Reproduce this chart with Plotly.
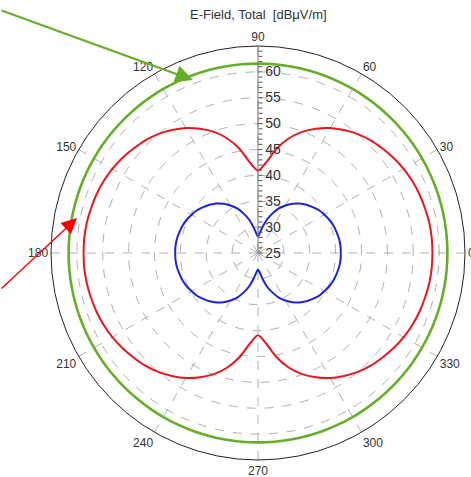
import plotly.graph_objects as go

# ---- data ----
angles = list(range(0, 361, 5))

red_db = [58.7, 58.7, 58.6, 58.4, 58.2, 57.9, 57.5, 57.0, 56.4, 55.8, 55.0, 54.0, 52.9, 51.5, 49.9, 47.9, 45.4, 42.5, 40.9,
          42.5, 45.4, 47.9, 49.9, 51.5, 52.9, 54.0, 55.0, 55.8, 56.4, 57.0, 57.5, 57.9, 58.2, 58.4, 58.6, 58.7, 58.7,
          58.7, 58.6, 58.4, 58.2, 57.9, 57.5, 57.0, 56.4, 55.8, 55.0, 54.0, 52.9, 51.5, 49.9, 47.9, 45.4, 42.5, 40.9,
          42.5, 45.4, 47.9, 49.9, 51.5, 52.9, 54.0, 55.0, 55.8, 56.4, 57.0, 57.5, 57.9, 58.2, 58.4, 58.6, 58.7, 58.7]

blue_db = [41.0, 41.0, 40.9, 40.7, 40.5, 40.2, 39.8, 39.4, 38.8, 38.2, 37.5, 36.6, 35.6, 34.5, 33.1, 31.7, 30.1, 28.8, 28.2,
           28.8, 30.1, 31.7, 33.1, 34.5, 35.6, 36.6, 37.5, 38.2, 38.8, 39.4, 39.8, 40.2, 40.5, 40.7, 40.9, 41.0, 41.0,
           41.0, 40.9, 40.7, 40.5, 40.2, 39.8, 39.4, 38.8, 38.2, 37.5, 36.6, 35.6, 34.5, 33.1, 31.7, 30.1, 28.8, 28.2,
           28.8, 30.1, 31.7, 33.1, 34.5, 35.6, 36.6, 37.5, 38.2, 38.8, 39.4, 39.8, 40.2, 40.5, 40.7, 40.9, 41.0, 41.0]

green_level = 61.6
green_db = [green_level] * len(angles)

radial_range = [25, 65]
major_ticks = [25, 30, 35, 40, 45, 50, 55, 60]
grid_circles = [30, 35, 40, 45, 50, 55, 60]
minor_ticks = list(range(25, 65))
minor_text = [str(v) if v in major_ticks else "" for v in minor_ticks]
angle_ticks = [0, 30, 60, 90, 120, 150, 180, 210, 240, 270, 300, 330]

title_text = "E-Field, Total  [dBμV/m]"

# ---- layout geometry (pixels) ----
W, H = 471, 477
cx, cy, R = 258, 253, 207

dom_x = [(cx - R) / W, (cx + R) / W]
dom_y = [(H - cy - R) / H, (H - cy + R) / H]

fig = go.Figure()

# empty trace so the grid subplot is drawn
fig.add_trace(go.Scatterpolar(r=[], theta=[], subplot="polar", showlegend=False, hoverinfo="skip"))

for r, col, w in [(green_db, "#66ad2a", 2.6), (red_db, "#e8161e", 2.0), (blue_db, "#1a24d6", 2.0)]:
    fig.add_trace(go.Scatterpolar(
        r=r, theta=angles, mode="lines", subplot="polar2",
        line=dict(color=col, width=w, shape="spline", smoothing=0.8),
        showlegend=False, hoverinfo="skip"))

font_family = "Liberation Sans, Arial, sans-serif"

fig.update_layout(
    width=W, height=H,
    margin=dict(l=0, r=0, t=0, b=0),
    paper_bgcolor="white",
    showlegend=False,
    font=dict(family=font_family, size=12, color="#333"),
    polar=dict(
        domain=dict(x=dom_x, y=dom_y),
        bgcolor="white",
        radialaxis=dict(
            range=radial_range, tickvals=grid_circles, showticklabels=False,
            ticks="", showline=False, gridcolor="#b0b0b0", griddash="dash", gridwidth=1,
            angle=90),
        angularaxis=dict(
            tickvals=angle_ticks, ticktext=[str(a) for a in angle_ticks],
            direction="counterclockwise", rotation=0,
            showline=True, linecolor="#222", linewidth=1,
            gridcolor="#b0b0b0", griddash="dash", gridwidth=1,
            ticks="", tickfont=dict(size=12, color="#333")),
    ),
    polar2=dict(
        domain=dict(x=dom_x, y=dom_y),
        bgcolor="rgba(0,0,0,0)",
        radialaxis=dict(
            range=radial_range, tickvals=minor_ticks, ticktext=minor_text,
            angle=90, side="clockwise", tickangle=90,
            ticks="outside", ticklen=4, tickcolor="#555", tickwidth=1,
            showline=True, linecolor="#777", linewidth=1, showgrid=False,
            tickfont=dict(size=14, color="#333")),
        angularaxis=dict(
            direction="counterclockwise", rotation=0, visible=False,
            showgrid=False, showline=False, showticklabels=False),
    ),
    annotations=[
        dict(text=title_text, x=cx / W, y=1 - 15 / H, xref="paper", yref="paper",
             showarrow=False, xanchor="center", yanchor="middle",
             font=dict(size=13, color="#333")),
        dict(text="", x=193 / W, y=1 - 80 / H, xref="paper", yref="paper",
             ax=0 - 193, ay=10 - 80, showarrow=True, arrowhead=2, arrowsize=1.6,
             arrowwidth=2.2, arrowcolor="#66ad2a", standoff=0, startstandoff=0),
        dict(text="", x=77 / W, y=1 - 218 / H, xref="paper", yref="paper",
             ax=0 - 77, ay=290 - 218, showarrow=True, arrowhead=2, arrowsize=2.2,
             arrowwidth=1.4, arrowcolor="#ff0000", standoff=0, startstandoff=0),
    ],
)

fig.write_html("out.html", config={"displayModeBar": False},
               post_script="document.body.style.margin='0px';")
